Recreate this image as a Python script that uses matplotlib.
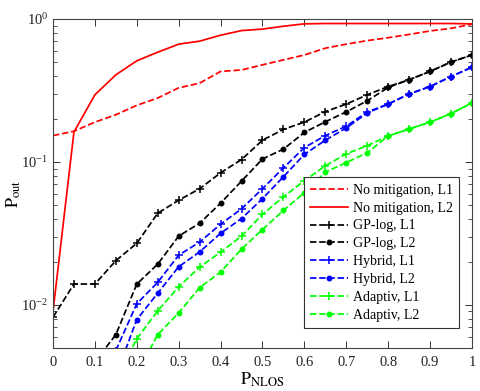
import numpy as np
import matplotlib
matplotlib.use("Agg")
import matplotlib.pyplot as plt

plt.rcParams['font.family'] = ['Liberation Serif', 'DejaVu Serif']
plt.rcParams['mathtext.fontset'] = 'stix'

nan = np.nan
x = [0, 0.05, 0.1, 0.15, 0.2, 0.25, 0.3, 0.35, 0.4, 0.45, 0.5,
     0.55, 0.6, 0.65, 0.7, 0.75, 0.8, 0.85, 0.9, 0.95, 1.0]

no_mit_L1 = [0.153, 0.164, 0.19, 0.214, 0.249, 0.28, 0.33, 0.356, 0.43, 0.44, 0.478,
             0.518, 0.56, 0.625, 0.667, 0.706, 0.74, 0.78, 0.825, 0.86, 0.92]
no_mit_L2 = [0.009, 0.162, 0.295, 0.407, 0.51, 0.586, 0.667, 0.70, 0.77, 0.83, 0.85,
             0.89, 0.925, 0.93, 0.93, 0.93, 0.93, 0.93, 0.93, 0.93, 0.925]
gp_L1 = [0.0082, 0.014, 0.014, 0.0204, 0.027, 0.0438, 0.054, 0.065, 0.084, 0.104, 0.142,
         0.169, 0.19, 0.225, 0.254, 0.295, 0.337, 0.376, 0.43, 0.5, 0.56]
gp_L2 = [nan, nan, 0.004, 0.0062, 0.014, 0.0193, 0.0303, 0.0373, 0.0515, 0.0735, 0.105,
         0.123, 0.161, 0.191, 0.224, 0.268, 0.332, 0.376, 0.43, 0.5, 0.56]
hyb_L1 = [nan, nan, nan, 0.0048, 0.0102, 0.0144, 0.0223, 0.0275, 0.0367, 0.047, 0.065,
          0.091, 0.126, 0.153, 0.178, 0.224, 0.254, 0.299, 0.337, 0.396, 0.46]
hyb_L2 = [nan, nan, nan, 0.0032, 0.0079, 0.0121, 0.0185, 0.0235, 0.0317, 0.0402, 0.0554,
          0.0788, 0.113, 0.142, 0.173, 0.22, 0.254, 0.299, 0.337, 0.396, 0.46]
ad_L1 = [nan, nan, nan, 0.003, 0.0058, 0.0091, 0.0134, 0.0184, 0.0234, 0.0303, 0.043,
         0.057, 0.074, 0.094, 0.114, 0.13, 0.152, 0.17, 0.19, 0.218, 0.259]
ad_L2 = [nan, nan, nan, nan, 0.0033, 0.0062, 0.0088, 0.0132, 0.017, 0.0246, 0.0337,
         0.0458, 0.061, 0.085, 0.099, 0.116, 0.152, 0.17, 0.19, 0.218, 0.259]

labels = ['No mitigation, L1', 'No mitigation, L2', 'GP-log, L1', 'GP-log, L2',
          'Hybrid, L1', 'Hybrid, L2', 'Adaptiv, L1', 'Adaptiv, L2']

fig = plt.figure(figsize=(4.8, 3.91), dpi=100)
ax = fig.add_axes([0.1104, 0.110, 0.8729, 0.8414])

lw = 1.25
red, blk, blu, grn = '#ff0000', '#000000', '#0000ff', '#00ff00'
pk = dict(marker='+', ms=6, mew=1.1)
dk = dict(marker='.', ms=6.5)
ax.plot(x, no_mit_L1, ls='--', color=red, lw=lw, label=labels[0])
ax.plot(x, no_mit_L2, ls='-', color=red, lw=lw, label=labels[1])
ax.plot(x, gp_L1, ls='--', color=blk, lw=lw, label=labels[2], **pk)
ax.plot(x, gp_L2, ls='--', color=blk, lw=lw, label=labels[3], **dk)
ax.plot(x, hyb_L1, ls='--', color=blu, lw=lw, label=labels[4], **pk)
ax.plot(x, hyb_L2, ls='--', color=blu, lw=lw, label=labels[5], **dk)
ax.plot(x, ad_L1, ls='--', color=grn, lw=lw, label=labels[6], **pk)
ax.plot(x, ad_L2, ls='--', color=grn, lw=lw, label=labels[7], **dk)

ax.set_yscale('log')
ax.set_xlim(0, 1)
ax.set_ylim(5e-3, 1)
ax.set_xticks(np.arange(0, 1.01, 0.1))
ax.set_xticklabels(['0', '0.1', '0.2', '0.3', '0.4', '0.5', '0.6', '0.7', '0.8', '0.9', '1'])

ax.tick_params(which='both', direction='in', top=True, right=True,
               labelsize=10.5, colors='#333333', labelcolor='#222222')
ax.tick_params(axis='x', which='major', pad=6)
ax.tick_params(which='major', length=5, width=0.7)
ax.tick_params(which='minor', length=3, width=0.6)
for s in ax.spines.values():
    s.set_color('#444444')
    s.set_linewidth(0.8)

ax.set_xlabel(r'$\mathrm{P}_{\mathrm{NLOS}}$', fontsize=13)
ax.set_ylabel(r'$\mathrm{P}_{\mathrm{out}}$', fontsize=13)
ax.xaxis.set_label_coords(0.5, -0.068)
ax.yaxis.set_label_coords(-0.072, 0.47)

leg = ax.legend(loc='lower right', bbox_to_anchor=(0.969, 0.061), borderaxespad=0,
                fontsize=10, fancybox=False, edgecolor='#333333', framealpha=1,
                handlelength=2.7, handletextpad=0.35, labelspacing=0.35, borderpad=0.45)
leg.get_frame().set_linewidth(0.8)

fig.savefig('out.png', dpi=100)
